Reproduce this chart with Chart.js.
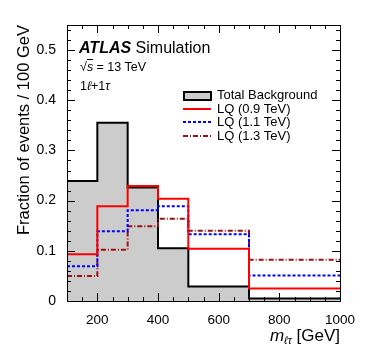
<!DOCTYPE html>
<html>
<head>
<meta charset="utf-8">
<script src="https://cdn.jsdelivr.net/npm/chart.js@4.4.0/dist/chart.umd.min.js"></script>
<style>
  html, body { margin: 0; padding: 0; background: #fff; }
  #wrap { position: relative; width: 374px; height: 359px; font-family: "Liberation Sans", Arial, sans-serif; color: #000; }
  canvas { position: absolute; left: 0; top: 0; }
  .txt { position: absolute; white-space: nowrap; line-height: 1; }
  .leg { position: absolute; left: 183px; white-space: nowrap; line-height: 1; font-size: 13px; }
  .leg svg { position: absolute; left: 0; }
  .leg span { position: absolute; left: 34px; top: 0; }
</style>
</head>
<body>
<div id="wrap">
  <canvas id="chart" width="374" height="359"></canvas>

  <div class="txt" style="left:79px; top:39.5px; font-size:16px;"><b><i>ATLAS</i></b> Simulation</div>
  <div class="txt" style="left:80px; top:61px; font-size:12.5px;">√<span style="text-decoration:overline"><i>s</i></span> = 13 TeV</div>
  <div class="txt" style="left:80px; top:80px; font-size:12.5px;">1<i>ℓ</i>+1<i>τ</i></div>

  <div class="leg" style="top:88px;">
    <svg width="30" height="12" style="top:3px"><rect x="1" y="1" width="27" height="8" fill="#cccccc" stroke="#000" stroke-width="2"/></svg>
    <span>Total Background</span>
  </div>
  <div class="leg" style="top:101.5px;">
    <svg width="30" height="12" style="top:1px"><line x1="0" y1="6" x2="28" y2="6" stroke="#ff0000" stroke-width="2"/></svg>
    <span>LQ (0.9 TeV)</span>
  </div>
  <div class="leg" style="top:115px;">
    <svg width="30" height="12" style="top:1px"><line x1="0" y1="6" x2="28" y2="6" stroke="#0000ff" stroke-width="2" stroke-dasharray="3,2"/></svg>
    <span>LQ (1.1 TeV)</span>
  </div>
  <div class="leg" style="top:128.5px;">
    <svg width="30" height="12" style="top:1px"><line x1="0" y1="6" x2="28" y2="6" stroke="#a01010" stroke-width="2" stroke-dasharray="5,2,1,2"/></svg>
    <span>LQ (1.3 TeV)</span>
  </div>

  <div class="txt" style="right:34px; top:327px; font-size:17px;"><i>m</i><sub style="font-size:11px; vertical-align:-3px;"><i>ℓτ</i></sub> [GeV]</div>
</div>

<script>
// bin edges of the m_ltau histogram (GeV)
const binEdges = [100, 200, 300, 400, 500, 700, 1000];

// normalised fractions per bin
const totalBackground = [0.239, 0.355, 0.226, 0.105, 0.029, 0.005];
const lq09 = [0.093, 0.189, 0.229, 0.204, 0.104, 0.025];
const lq11 = [0.069, 0.139, 0.181, 0.189, 0.133, 0.051];
const lq13 = [0.050, 0.102, 0.149, 0.164, 0.140, 0.082];

// axis ticks
const xTicks = [200, 400, 600, 800, 1000];
const yTicks = [0, 0.1, 0.2, 0.3, 0.4, 0.5];

// turn bin contents into step points (last edge repeats the last value)
function toSteps(vals) {
    const pts = binEdges.slice(0, -1).map((e, i) => ({ x: e, y: vals[i] }));
    pts.push({ x: binEdges[binEdges.length - 1], y: vals[vals.length - 1] });
    return pts;
}

// frame on all four sides with inward major/minor ticks, ROOT style
const frameTicks = {
    id: 'frameTicks',
    afterDatasetsDraw(chart) {
        const { ctx, chartArea: a, scales: { x, y } } = chart;
        ctx.save();
        ctx.strokeStyle = '#000';
        ctx.lineWidth = 1;
        ctx.beginPath();
        for (let v = 100; v <= 1000; v += 50) {
            const px = Math.round(x.getPixelForValue(v)) + 0.5;
            const len = v % 200 === 0 ? 8 : 4;
            ctx.moveTo(px, a.bottom); ctx.lineTo(px, a.bottom - len);
            ctx.moveTo(px, a.top); ctx.lineTo(px, a.top + len);
        }
        for (let k = 0; k <= 27; k++) {
            const py = Math.round(y.getPixelForValue(k * 0.02)) + 0.5;
            const len = k % 5 === 0 ? 8 : 4;
            ctx.moveTo(a.left, py); ctx.lineTo(a.left + len, py);
            ctx.moveTo(a.right, py); ctx.lineTo(a.right - len, py);
        }
        ctx.stroke();
        ctx.strokeRect(Math.round(a.left) + 0.5, Math.round(a.top) + 0.5, Math.round(a.width), Math.round(a.height));
        ctx.restore();
    }
};

Chart.defaults.font.family = "'Liberation Sans', Arial, sans-serif";
Chart.defaults.color = '#000';

new Chart(document.getElementById('chart'), {
    type: 'line',
    data: {
        datasets: [
            {
                label: 'LQ (0.9 TeV)',
                data: toSteps(lq09),
                borderColor: '#ff0000',
                borderWidth: 2,
                order: 1
            },
            {
                label: 'LQ (1.1 TeV)',
                data: toSteps(lq11),
                borderColor: '#0000ff',
                borderWidth: 2,
                borderDash: [3, 2],
                order: 2
            },
            {
                label: 'LQ (1.3 TeV)',
                data: toSteps(lq13),
                borderColor: '#a01010',
                borderWidth: 2,
                borderDash: [5, 2, 1, 2],
                order: 3
            },
            {
                label: 'Total Background',
                data: toSteps(totalBackground),
                borderColor: '#000',
                borderWidth: 2,
                backgroundColor: '#cccccc',
                fill: 'origin',
                order: 4
            }
        ]
    },
    options: {
        responsive: false,
        animation: false,
        layout: { padding: { top: 25, right: 34, bottom: 0, left: 0 } },
        elements: {
            line: { stepped: 'before', tension: 0, borderJoinStyle: 'miter' },
            point: { radius: 0, hoverRadius: 0 }
        },
        plugins: {
            legend: { display: false },
            tooltip: { enabled: false }
        },
        scales: {
            x: {
                type: 'linear',
                min: 100,
                max: 1000,
                grid: { display: false },
                border: { display: false },
                afterBuildTicks: scale => { scale.ticks = xTicks.map(v => ({ value: v })); },
                afterFit: scale => { scale.height = 58; },
                ticks: { padding: 3, font: { size: 13.5 }, maxRotation: 0, callback: v => String(v) }
            },
            y: {
                min: 0,
                max: 0.55,
                grid: { display: false },
                border: { display: false },
                afterBuildTicks: scale => { scale.ticks = yTicks.map(v => ({ value: v })); },
                afterFit: scale => { scale.width = 67; },
                ticks: {
                    padding: 3,
                    font: { size: 14 },
                    callback: v => (v === 0 ? '0' : v.toFixed(1))
                },
                title: {
                    display: true,
                    text: 'Fraction of events / 100 GeV',
                    align: 'end',
                    font: { size: 16.5 },
                    padding: { top: 15, bottom: 0 }
                }
            }
        }
    },
    plugins: [frameTicks]
});
</script>
</body>
</html>
